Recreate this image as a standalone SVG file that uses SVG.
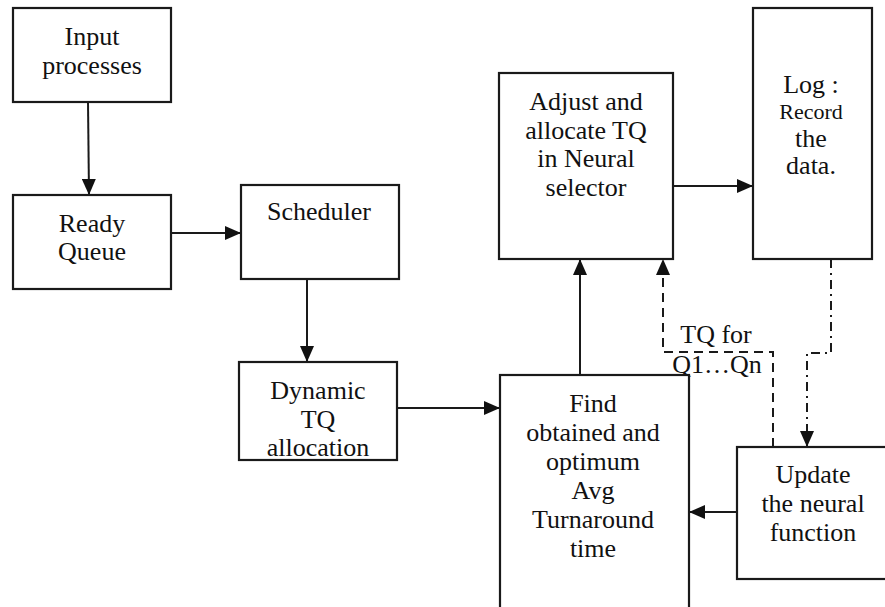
<svg xmlns="http://www.w3.org/2000/svg" width="885" height="607" viewBox="0 0 885 607">
<style>
.box{fill:#fff;stroke:#1a1a1a;stroke-width:2.2}
.c{fill:none;stroke:#1a1a1a;stroke-width:2}
.dash{stroke-dasharray:9 6}
.dd{stroke-dasharray:9 5 2 5}
</style>
<defs>
<marker id="ah" viewBox="0 0 16 14" refX="16" refY="7" markerWidth="16" markerHeight="14" markerUnits="userSpaceOnUse" orient="auto">
<path d="M0,0 L16,7 L0,14 Z" fill="#111"/>
</marker>
</defs>
<g font-family="Liberation Serif, Times New Roman, DejaVu Serif, serif" font-size="26" fill="#111" text-anchor="middle">
<g id="connectors">
<line class="c" x1="88" y1="102" x2="89" y2="195" marker-end="url(#ah)"/>
<line class="c" x1="171" y1="233" x2="241" y2="233" marker-end="url(#ah)"/>
<line class="c" x1="307" y1="279" x2="307" y2="362" marker-end="url(#ah)"/>
<line class="c" x1="397" y1="408" x2="500" y2="408" marker-end="url(#ah)"/>
<line class="c" x1="580" y1="375" x2="580" y2="259" marker-end="url(#ah)"/>
<line class="c" x1="673" y1="186" x2="753" y2="186" marker-end="url(#ah)"/>
<line class="c" x1="737" y1="512" x2="689" y2="512" marker-end="url(#ah)"/>
<polyline class="c dash" points="773,447 773,352 663,352 663,259" marker-end="url(#ah)"/>
<polyline class="c dd" points="831,259 831,353 807,353 807,447" marker-end="url(#ah)"/>
<text x="716" y="343">TQ for</text>
<text x="717" y="373">Q1…Qn</text>
</g>
<g id="input">
<rect class="box" x="13" y="8" width="158" height="94"/>
<text x="92" y="45">Input</text>
<text x="92" y="74">processes</text>
</g>
<g id="ready">
<rect class="box" x="13" y="195" width="158" height="94"/>
<text x="92" y="232">Ready</text>
<text x="92" y="260">Queue</text>
</g>
<g id="scheduler">
<rect class="box" x="241" y="185" width="158" height="94"/>
<text x="319" y="220">Scheduler</text>
</g>
<g id="dynamic">
<rect class="box" x="239" y="362" width="158" height="98"/>
<text x="318" y="399">Dynamic</text>
<text x="318" y="428">TQ</text>
<text x="318" y="456">allocation</text>
</g>
<g id="adjust">
<rect class="box" x="499" y="73" width="174" height="186"/>
<text x="586" y="110">Adjust and</text>
<text x="586" y="139">allocate TQ</text>
<text x="586" y="167">in Neural</text>
<text x="586" y="196">selector</text>
</g>
<g id="log">
<rect class="box" x="753" y="8" width="119" height="251"/>
<text x="811" y="93">Log :</text>
<text x="811" y="119" font-size="22">Record</text>
<text x="811" y="147">the</text>
<text x="811" y="174">data.</text>
</g>
<g id="find">
<rect class="box" x="500" y="375" width="189" height="240"/>
<text x="593" y="412">Find</text>
<text x="593" y="441">obtained and</text>
<text x="593" y="470">optimum</text>
<text x="593" y="499">Avg</text>
<text x="593" y="528">Turnaround</text>
<text x="593" y="557">time</text>
</g>
<g id="update">
<rect class="box" x="737" y="447" width="160" height="132"/>
<text x="813" y="483">Update</text>
<text x="813" y="512">the neural</text>
<text x="813" y="541">function</text>
</g>
</g>
</svg>
